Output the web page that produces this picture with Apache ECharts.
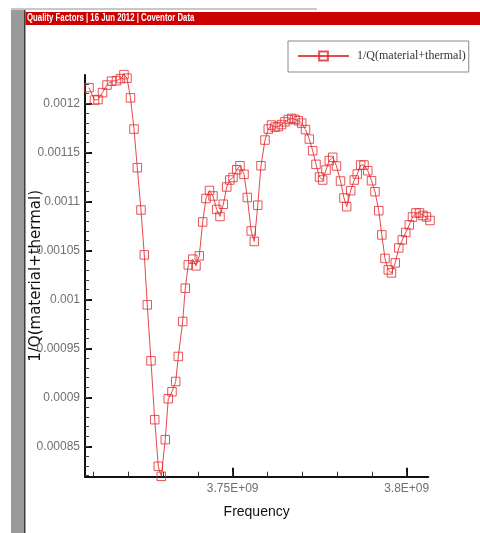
<!DOCTYPE html>
<html><head><meta charset="utf-8">
<script src="https://cdn.jsdelivr.net/npm/echarts@6/dist/echarts.min.js"></script>
<style>html,body{margin:0;padding:0;background:#fff;}#c{width:480px;height:533px;}</style>
</head><body><div id="c"></div>
<script>
const seriesName = '1/Q(material+thermal)';
const headerText = 'Quality Factors | 16 Jun 2012 | Coventor Data';
const xAxisName = 'Frequency';
const yAxisName = '1/Q(material+thermal)';
const xTickLabels = ['3.75E+09', '3.8E+09'];
const yTickLabels = ['0.00085', '0.0009', '0.00095', '0.001', '0.00105', '0.0011', '0.00115', '0.0012'];

const frequency = [
  3.70871e9, 3.71029e9, 3.71129e9, 3.71259e9, 3.71388e9, 3.71517e9, 3.71661e9, 3.71776e9, 3.71876e9, 3.71963e9,
  3.72063e9, 3.72164e9, 3.72259e9, 3.72365e9, 3.72460e9, 3.72546e9, 3.72652e9, 3.72759e9, 3.72862e9, 3.72948e9,
  3.73063e9, 3.73149e9, 3.73256e9, 3.73362e9, 3.73437e9, 3.73563e9, 3.73638e9, 3.73724e9, 3.73851e9, 3.73945e9,
  3.74040e9, 3.74138e9, 3.74233e9, 3.74333e9, 3.74434e9, 3.74540e9, 3.74635e9, 3.74730e9, 3.74830e9, 3.74917e9,
  3.75009e9, 3.75118e9, 3.75210e9, 3.75325e9, 3.75420e9, 3.75532e9, 3.75621e9, 3.75721e9, 3.75813e9, 3.75928e9,
  3.76023e9, 3.76115e9, 3.76216e9, 3.76310e9, 3.76402e9, 3.76503e9, 3.76598e9, 3.76695e9, 3.76790e9, 3.76885e9,
  3.76983e9, 3.77092e9, 3.77201e9, 3.77299e9, 3.77394e9, 3.77494e9, 3.77586e9, 3.77681e9, 3.77776e9, 3.77874e9,
  3.77983e9, 3.78098e9, 3.78198e9, 3.78276e9, 3.78391e9, 3.78494e9, 3.78580e9, 3.78678e9, 3.78773e9, 3.78882e9,
  3.78989e9, 3.79089e9, 3.79198e9, 3.79285e9, 3.79376e9, 3.79471e9, 3.79563e9, 3.79672e9, 3.79773e9, 3.79874e9,
  3.79974e9, 3.80075e9, 3.80167e9, 3.80267e9, 3.80368e9, 3.80468e9, 3.80569e9, 3.80670e9
];
const invQ = [
  0.0012161, 0.0012034, 0.0012039, 0.0012110, 0.0012187, 0.0012227, 0.0012232, 0.0012253, 0.0012294, 0.0012258,
  0.0012057, 0.0011738, 0.0011344, 0.0010912, 0.0010454, 0.0009944, 0.0009373, 0.0008772, 0.0008296, 0.0008194,
  0.0008568, 0.0008986, 0.0009057, 0.0009162, 0.0009417, 0.0009774, 0.0010114, 0.0010352, 0.0010410, 0.0010342,
  0.0010444, 0.0010790, 0.0011030, 0.0011111, 0.0011055, 0.0010918, 0.0010846, 0.0010971, 0.0011147, 0.0011218,
  0.0011244, 0.0011323, 0.0011364, 0.0011276, 0.0011040, 0.0010698, 0.0010591, 0.0010961, 0.0011364, 0.0011626,
  0.0011738, 0.0011779, 0.0011758, 0.0011764, 0.0011784, 0.0011812, 0.0011835, 0.0011847, 0.0011837, 0.0011823,
  0.0011799, 0.0011733, 0.0011636, 0.0011517, 0.0011378, 0.0011249, 0.0011218, 0.0011320, 0.0011417, 0.0011450,
  0.0011361, 0.0011208, 0.0011035, 0.0010946, 0.0011109, 0.0011218, 0.0011279, 0.0011371, 0.0011371, 0.0011313,
  0.0011211, 0.0011099, 0.0010905, 0.0010658, 0.0010418, 0.0010301, 0.0010270, 0.0010372, 0.0010525, 0.0010607,
  0.0010683, 0.0010760, 0.0010841, 0.0010882, 0.0010882, 0.0010856, 0.0010841, 0.0010805
];

const X_MIN = 3.70756e9, X_MAX = 3.80621e9;
const Y_MIN = 0.000819, Y_MAX = 0.001229;

const xMajor = xTickLabels.map(parseFloat);
const yMajor = yTickLabels.map(parseFloat);
const xMinor = [];
for (let i = 371; i <= 380; i++) xMinor.push(i * 1e7);
const yMinor = [];
for (let i = 82; i <= 122; i++) yMinor.push(Math.round(i * 1e3) / 1e8);

function labelFor(values, labels) {
  return function (v) {
    for (let i = 0; i < values.length; i++) {
      if (Math.abs(values[i] - v) <= Math.abs(values[i]) * 1e-9) return labels[i];
    }
    return '';
  };
}

const chart = echarts.init(document.getElementById('c'), null, { renderer: 'canvas' });
const data = frequency.map((f, i) => [f, invQ[i]]);

chart.setOption({
  animation: false,
  backgroundColor: '#ffffff',
  textStyle: { fontFamily: 'Liberation Sans' },
  graphic: [
    { type: 'rect', shape: { x: 11, y: 8, width: 306, height: 2 }, style: { fill: '#c8c8c8' }, silent: true },
    { type: 'rect', shape: { x: 11, y: 10, width: 13, height: 523 }, style: { fill: '#9a9a9a' }, silent: true },
    { type: 'rect', shape: { x: 24, y: 10, width: 1.5, height: 523 }, style: { fill: '#3c3c3c' }, silent: true },
    { type: 'rect', shape: { x: 25.5, y: 12, width: 455, height: 13 }, style: { fill: '#cc0000' }, silent: true },
    { type: 'text', x: 27, y: 18.5, scaleX: 0.78, scaleY: 1, silent: true,
      style: { text: headerText, fill: '#ffffff', font: 'bold 10px "Liberation Sans"', verticalAlign: 'middle' } }
  ],
  grid: { left: 85, top: 75, right: 480 - 428.3, bottom: 533 - 476.7, containLabel: false, outerBoundsMode: 'none' },
  legend: {
    show: true,
    left: 288, top: 41,
    padding: [9, 3, 10, 9],
    itemWidth: 51, itemHeight: 11, itemGap: 0,
    borderColor: '#8a8a8a', borderWidth: 1, backgroundColor: '#ffffff',
    textStyle: { fontFamily: 'Liberation Serif', fontSize: 12, color: '#333', padding: [0, 0, 0, 3] },
    data: [seriesName]
  },
  xAxis: [
    {
      type: 'value', min: X_MIN, max: X_MAX, position: 'bottom',
      name: xAxisName, nameLocation: 'middle', nameGap: 28, nameMoveOverlap: false,
      nameTextStyle: { fontFamily: 'Liberation Sans', fontSize: 14, color: '#111' },
      splitLine: { show: false },
      axisLine: { show: true, onZero: false, lineStyle: { color: '#111', width: 2 } },
      axisTick: { show: true, inside: true, length: 9, customValues: xMajor, lineStyle: { color: '#111', width: 2 } },
      axisLabel: { show: true, margin: 6, customValues: xMajor, color: '#707070', fontSize: 12,
        fontFamily: 'Liberation Sans', formatter: labelFor(xMajor, xTickLabels) }
    },
    {
      type: 'value', min: X_MIN, max: X_MAX, position: 'bottom',
      splitLine: { show: false },
      axisLine: { show: false, onZero: false },
      axisTick: { show: true, inside: true, length: 5, customValues: xMinor, lineStyle: { color: '#333', width: 1 } },
      axisLabel: { show: false }
    }
  ],
  yAxis: [
    {
      type: 'value', min: Y_MIN, max: Y_MAX, position: 'left',
      name: yAxisName, nameLocation: 'middle', nameRotate: 90, nameGap: 41, nameMoveOverlap: false,
      nameTextStyle: { fontFamily: 'DejaVu Sans', fontSize: 15, color: '#111' },
      splitLine: { show: false },
      axisLine: { show: true, onZero: false, lineStyle: { color: '#111', width: 2 } },
      axisTick: { show: true, inside: true, length: 7, customValues: yMajor, lineStyle: { color: '#111', width: 2 } },
      axisLabel: { show: true, margin: 5, customValues: yMajor, color: '#707070', fontSize: 12,
        fontFamily: 'Liberation Sans', formatter: labelFor(yMajor, yTickLabels) }
    },
    {
      type: 'value', min: Y_MIN, max: Y_MAX, position: 'left',
      splitLine: { show: false },
      axisLine: { show: false, onZero: false },
      axisTick: { show: true, inside: true, length: 4, customValues: yMinor, lineStyle: { color: '#444', width: 1 } },
      axisLabel: { show: false }
    }
  ],
  series: [{
    name: seriesName,
    type: 'line',
    xAxisIndex: 0, yAxisIndex: 0,
    data: data,
    clip: false,
    showAllSymbol: true,
    symbol: 'rect',
    symbolSize: 8.5,
    lineStyle: { color: '#e5484d', width: 1 },
    itemStyle: { color: 'rgba(255,255,255,0)', borderColor: 'rgba(228,40,45,0.8)', borderWidth: 1 },
    emphasis: { disabled: true }
  }]
});
</script>
</body></html>
